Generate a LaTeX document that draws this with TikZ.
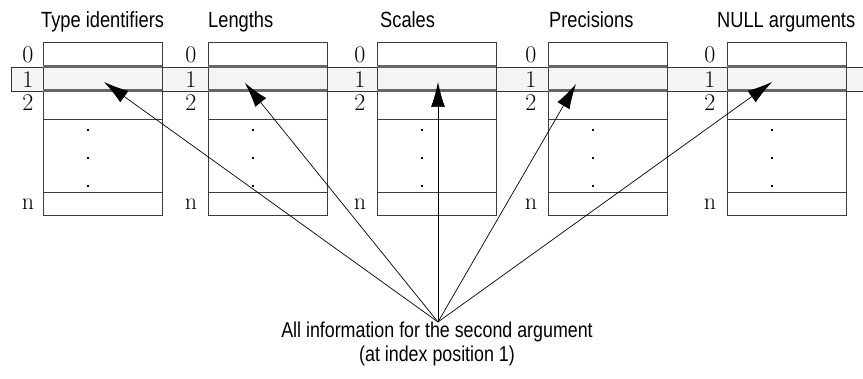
\documentclass[tikz,border=0pt]{standalone}
\usepackage{fontspec}
\newfontfamily\titlefont[FakeStretch=0.83]{Liberation Sans}
\usetikzlibrary{arrows.meta}
\definecolor{bandfill}{HTML}{F4F4F2}
\definecolor{rowline}{HTML}{666666}
\definecolor{boxline}{HTML}{3C3C3C}
\begin{document}
\begin{tikzpicture}[x=1pt,y=-1pt,
  titlest/.style={font=\titlefont\fontsize{22}{26}\selectfont, anchor=base west, inner sep=0pt},
  capst/.style={font=\titlefont\fontsize{21.5}{25}\selectfont, anchor=base, inner sep=0pt},
  idx/.style={font=\fontsize{24}{26}\selectfont, anchor=base, inner sep=0pt},
  boxst/.style={draw=boxline, line width=0.9pt, minimum width=119pt, minimum height=173pt, anchor=north west, inner sep=0pt, outer sep=0pt},
  rowthin/.style={draw=boxline, line width=0.9pt},
  rowthick/.style={draw=rowline, line width=2.6pt},
  arr/.style={-{Latex[length=25pt,width=14pt]}, line width=0.7pt, black}]
\useasboundingbox (0,0) rectangle (863,379);
\fill[white] (0,0) rectangle (863,379);
% highlighted row band
\fill[bandfill] (11,67) rectangle (863,91);
\draw[black!80, line width=0.8pt] (863,67) -- (11,67) -- (11,91) -- (863,91);
% boxes
\foreach \i/\bx/\dx/\lx in {1/43/88/28, 2/208/253/191, 3/377/422/360, 4/548/593/531, 5/727/772/710} {
  \node[boxst] (b\i) at (\bx,42) {};
  \draw[rowthin] (\bx,119) -- ++(119,0) (\bx,192) -- ++(119,0);
  \draw[rowthick] (\bx,66.5) -- ++(119,0) (\bx,90.5) -- ++(119,0);
  \fill[black] ({\dx-1},129) rectangle ++(2,2);
  \fill[black] ({\dx-1},157) rectangle ++(2,2);
  \fill[black] ({\dx-1},185) rectangle ++(2,2);
  \node[idx] (z\i) at (\lx,63) {0};
  \node[idx] (o\i) at (\lx,88) {1};
  \node[idx] (w\i) at (\lx,111) {2};
  \node[idx] (n\i) at (\lx,210) {n};
}
% titles
\node[titlest] (h1) at (41,28) {Type identifiers};
\node[titlest] (h2) at (208,28) {Lengths};
\node[titlest] (h3) at (380,28) {Scales};
\node[titlest] (h4) at (549,28) {Precisions};
\node[titlest] (h5) at (717,28) {NULL arguments};
% arrows
\coordinate (src) at (438,322);
\coordinate (t1) at (104,82);
\coordinate (t2) at (245,83);
\coordinate (t3) at (438,82);
\coordinate (t4) at (576,84);
\coordinate (t5) at (772,82);
\foreach \k in {1,...,5} { \draw[arr] (src) -- (t\k); }
% caption
\node[capst] (cap1) at (437,338) {All information for the second argument};
\node[capst] (cap2) at (437,362) {(at index position 1)};
\end{tikzpicture}
\end{document}
